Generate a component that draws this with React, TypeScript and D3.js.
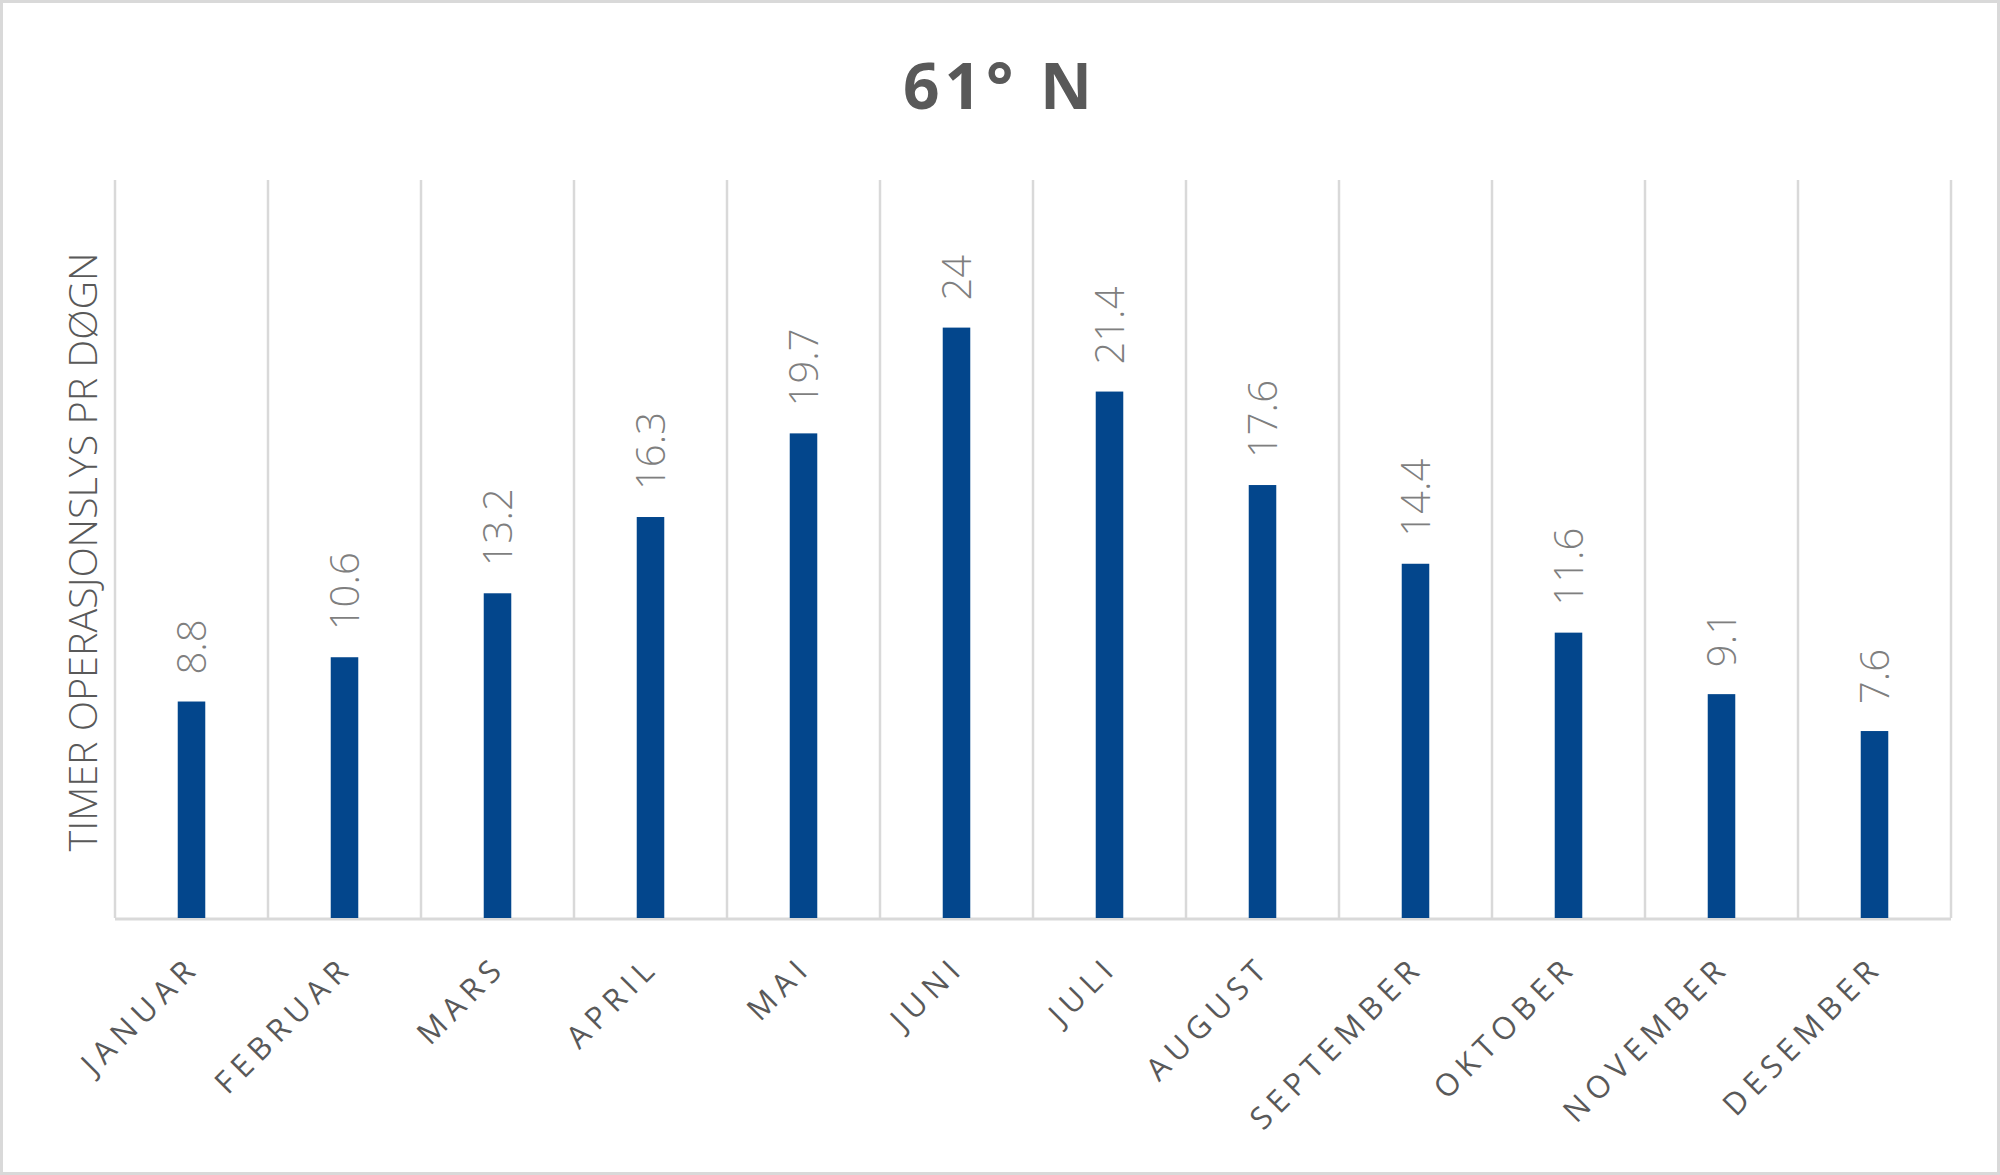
import React from "react";
import * as d3 from "d3";

const months = ["JANUAR","FEBRUAR","MARS","APRIL","MAI","JUNI","JULI","AUGUST","SEPTEMBER","OKTOBER","NOVEMBER","DESEMBER"];
const hours = [8.8, 10.6, 13.2, 16.3, 19.7, 24, 21.4, 17.6, 14.4, 11.6, 9.1, 7.6];
const valueLabels = ["8.8","10.6","13.2","16.3","19.7","24","21.4","17.6","14.4","11.6","9.1","7.6"];
const title = "61° N";
const yTitle = "TIMER OPERASJONSLYS PR DØGN";

const W = 2000, H = 1175;
const left = 115, right = 1951, top = 180, base = 918;
const font = "'Open Sans', 'DejaVu Sans', sans-serif";

export default function App() {
  const x = d3.scaleBand<string>().domain(months).range([left, right]).paddingInner(0).paddingOuter(0);
  const y = d3.scaleLinear().domain([0, 30]).range([base, top]);
  const bw = x.bandwidth() * 0.18;
  const grid = months.map((m) => x(m) as number).concat([right]);
  return (
    <svg width={W} height={H} style={{ position: "absolute", left: 0, top: 0, background: "#fff" }}>
      <rect x={1.5} y={1.5} width={W - 3} height={H - 3} fill="#fff" stroke="#d9d9d9" strokeWidth={3} />
      <text x={1000} y={109} textAnchor="middle" fontFamily={font} fontWeight={700} fontSize={64} letterSpacing={5} fill="#595959">{title}</text>
      {grid.map((gx, i) => (
        <line key={i} x1={gx} x2={gx} y1={top} y2={base} stroke="#d9d9d9" strokeWidth={2.5} />
      ))}
      <line x1={left} x2={right} y1={base + 1} y2={base + 1} stroke="#d9d9d9" strokeWidth={3} />
      {months.map((m, i) => {
        const cx = (x(m) as number) + x.bandwidth() / 2;
        const yt = y(hours[i]);
        return (
          <g key={m}>
            <rect x={cx - bw / 2} y={yt} width={bw} height={base - yt} fill="#03468C" />
            <text transform={`translate(${cx},${yt - 27}) rotate(-90)`} dy="0.36em" textAnchor="start" fontFamily={font} fontWeight={300} fontSize={40} fill="#7f7f7f">{valueLabels[i]}</text>
            <text transform={`translate(${cx + 10},${969}) rotate(-45)`} textAnchor="end" fontFamily={font} fontSize={31} letterSpacing={6.5} fill="#595959">{m}</text>
          </g>
        );
      })}
      <text transform={`translate(97,552) rotate(-90)`} textAnchor="middle" fontFamily={font} fontWeight={300} fontSize={39} textLength={599} lengthAdjust="spacingAndGlyphs" fill="#595959">{yTitle}</text>
    </svg>
  );
}
